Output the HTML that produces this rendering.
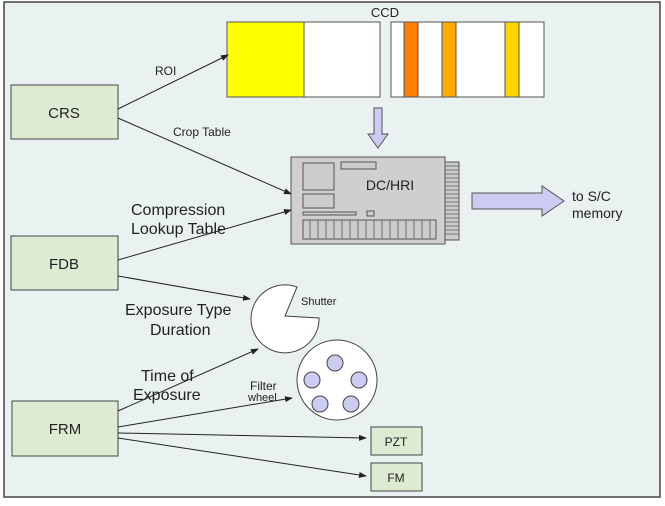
<!DOCTYPE html>
<html><head><style>
body{margin:0;background:#fff;}
svg text{font-family:"Liberation Sans",sans-serif;fill:#222;}
</style></head><body>
<svg width="665" height="501" viewBox="0 0 665 501" xmlns="http://www.w3.org/2000/svg">
<defs><marker id="a" markerWidth="8" markerHeight="6" refX="7" refY="3" orient="auto"><path d="M0,0 L8,3 L0,6z" fill="#222"/></marker></defs>
<rect x="4" y="2" width="656" height="495" fill="#e9f1f1" stroke="#444" stroke-width="1.5"/>
<!-- CCD -->
<text x="385" y="17" font-size="13" text-anchor="middle">CCD</text>
<rect x="227" y="22" width="153" height="75" fill="#fff" stroke="#555"/>
<rect x="227" y="22" width="77" height="75" fill="#ffff00" stroke="#555"/>
<rect x="391" y="22" width="153" height="75" fill="#fff" stroke="#555"/>
<rect x="404" y="22" width="14" height="75" fill="#ff7f00" stroke="#555"/>
<rect x="442" y="22" width="14" height="75" fill="#ffaa00" stroke="#555"/>
<rect x="505" y="22" width="14" height="75" fill="#ffd700" stroke="#555"/>
<!-- down arrow -->
<path d="M374,108 h8 v26 h6 l-10,14 l-10,-14 h6z" fill="#ccccf2" stroke="#555"/>
<!-- board -->
<rect x="445" y="162" width="14" height="78" fill="#ccc" stroke="#555"/>
<g stroke="#555" stroke-width="0.8">
<path d="M445,166h14M445,170h14M445,174h14M445,178h14M445,182h14M445,186h14M445,190h14M445,194h14M445,198h14M445,202h14M445,206h14M445,210h14M445,214h14M445,218h14M445,222h14M445,226h14M445,230h14M445,234h14"/>
</g>
<rect x="291" y="157" width="154" height="87" fill="#cfcfcf" stroke="#555"/>
<rect x="303" y="163" width="31" height="27" fill="#ccc" stroke="#555"/>
<rect x="341" y="162" width="35" height="7" fill="#ccc" stroke="#555"/>
<rect x="303" y="194" width="31" height="14" fill="#ccc" stroke="#555"/>
<rect x="303" y="212" width="53" height="3" fill="#ccc" stroke="#555"/>
<rect x="367" y="211" width="7" height="5" fill="#ccc" stroke="#555"/>
<rect x="303" y="220" width="133" height="19" fill="#ccc" stroke="#555"/>
<path d="M310,220v19M318,220v19M326,220v19M334,220v19M342,220v19M350,220v19M358,220v19M366,220v19M374,220v19M382,220v19M390,220v19M398,220v19M406,220v19M414,220v19M422,220v19M430,220v19" stroke="#555" stroke-width="0.8"/>
<text x="390" y="190" font-size="14" text-anchor="middle">DC/HRI</text>
<!-- right arrow -->
<path d="M472,193 h70 v-7 l22,15 l-22,15 v-7 h-70z" fill="#ccccf2" stroke="#555"/>
<text x="572" y="201" font-size="14">to S/C</text>
<text x="572" y="218" font-size="14">memory</text>
<!-- boxes -->
<g fill="#dcebd2" stroke="#444">
<rect x="11" y="85" width="107" height="54"/>
<rect x="11" y="236" width="107" height="54"/>
<rect x="12" y="401" width="106" height="55"/>
<rect x="371" y="427" width="51" height="28"/>
<rect x="371" y="463" width="51" height="28"/>
</g>
<text x="64" y="118" font-size="15" text-anchor="middle">CRS</text>
<text x="64" y="269" font-size="15" text-anchor="middle">FDB</text>
<text x="65" y="434" font-size="15" text-anchor="middle">FRM</text>
<text x="396" y="446" font-size="12" text-anchor="middle">PZT</text>
<text x="396" y="482" font-size="12" text-anchor="middle">FM</text>
<!-- shutter -->
<path d="M297,287 A34,34 0 1 0 319,318 L285,316 Z" fill="#fff" stroke="#444"/>
<text x="301" y="305" font-size="11">Shutter</text>
<!-- filter wheel -->
<circle cx="337" cy="380" r="40" fill="#fff" stroke="#444"/>
<g fill="#ccccf2" stroke="#444">
<circle cx="335" cy="363" r="8"/><circle cx="312" cy="380" r="8"/><circle cx="359" cy="380" r="8"/>
<circle cx="320" cy="404" r="8"/><circle cx="351" cy="404" r="8"/>
</g>
<text x="250" y="390" font-size="12">Filter</text>
<text x="248" y="401" font-size="11">wheel</text>
<!-- connectors -->
<g stroke="#222" stroke-width="1" fill="none" marker-end="url(#a)">
<line x1="118" y1="109" x2="228" y2="55"/>
<line x1="118" y1="118" x2="291" y2="194"/>
<line x1="118" y1="260" x2="291" y2="210"/>
<line x1="118" y1="276" x2="250" y2="299"/>
<line x1="118" y1="411" x2="258" y2="349"/>
<line x1="118" y1="427" x2="292" y2="398"/>
<line x1="118" y1="433" x2="366" y2="438"/>
<line x1="118" y1="438" x2="366" y2="476"/>
</g>
<text x="155" y="75" font-size="12">ROI</text>
<text x="173" y="136" font-size="12">Crop Table</text>
<text x="131" y="215" font-size="16">Compression</text>
<text x="131" y="234" font-size="16">Lookup Table</text>
<text x="125" y="315" font-size="16">Exposure Type</text>
<text x="150" y="335" font-size="16">Duration</text>
<text x="141" y="381" font-size="16">Time of</text>
<text x="133" y="400" font-size="16">Exposure</text>
</svg>
</body></html>
